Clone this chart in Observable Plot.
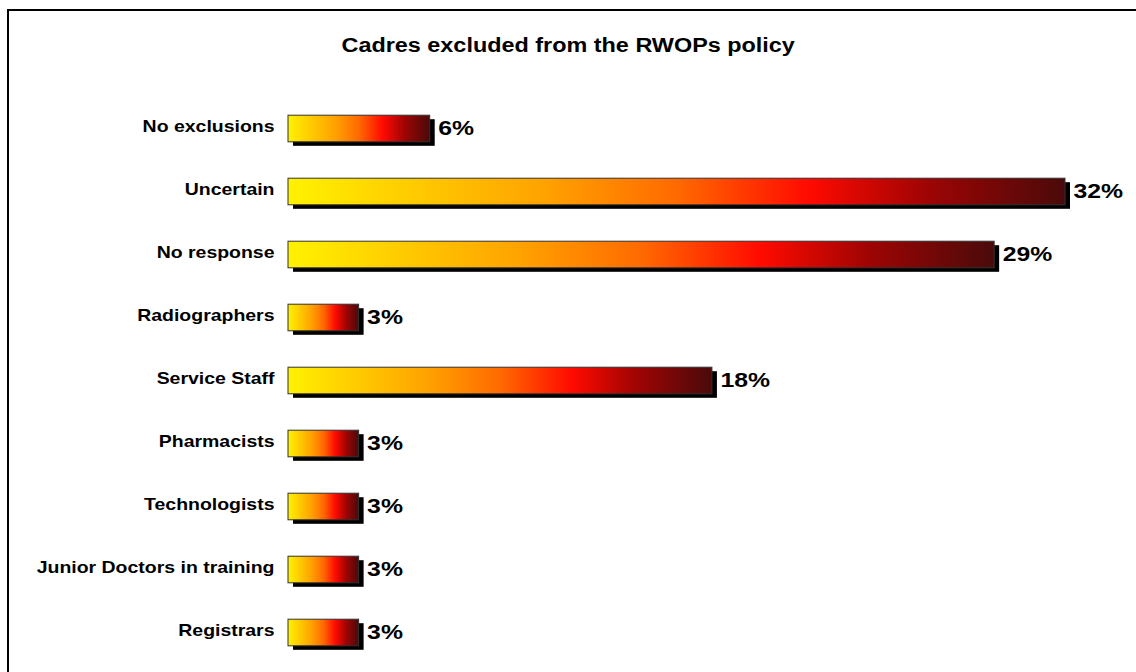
<!DOCTYPE html>
<html>
<head>
<meta charset="utf-8">
<script src="https://cdn.jsdelivr.net/npm/d3@7"></script>
<script src="https://cdn.jsdelivr.net/npm/@observablehq/plot@0.6"></script>
<style>
  html, body { margin: 0; padding: 0; background: #fff; overflow: hidden; }
  body { width: 1136px; height: 672px; position: relative; font-family: "Liberation Sans", Arial, sans-serif; }
  #frame { position: absolute; left: 7px; top: 9px; width: 1200px; height: 700px;
           border-top: 2px solid #000; border-left: 2px solid #000; box-sizing: border-box; }
  #title { position: absolute; left: 0; top: 33px; width: 1136px; text-align: center;
           font-weight: bold; font-size: 19.5px; line-height: 24px; color: #000;
           transform: scaleX(1.2); transform-origin: 567px 0; }
  #chart { position: absolute; left: 0; top: 80px; }
</style>
</head>
<body>
<div id="frame"></div>
<div id="title">Cadres excluded from the RWOPs policy</div>
<div id="chart"></div>
<script>
const categories = ["No exclusions", "Uncertain", "No response", "Radiographers", "Service Staff",
  "Pharmacists", "Technologists", "Junior Doctors in training", "Registrars"];
const values = [5.9, 32.35, 29.4, 2.94, 17.65, 2.94, 2.94, 2.94, 2.94];
const valueLabels = ["6%", "32%", "29%", "3%", "18%", "3%", "3%", "3%", "3%"];

const data = categories.map((c, i) => ({cat: c, v: values[i], lab: valueLabels[i]}));

const plot = Plot.plot({
  width: 1136,
  height: 592,
  marginLeft: 288,
  marginRight: 71,
  marginTop: 15,
  marginBottom: 6,
  x: {domain: [0, d3.max(values)], axis: null},
  y: {domain: categories, padding: 0, label: null},
  style: {fontFamily: "'Liberation Sans', Arial, sans-serif", background: "transparent"},
  marks: [
    Plot.barX(data, {y: "cat", x: "v", fill: "#000", insetTop: 18.2, insetBottom: 18.2, dx: 5, dy: 4}),
    Plot.barX(data, {y: "cat", x: "v", fill: "url(#barGrad)", stroke: "#333", strokeWidth: 1,
      insetTop: 18.2, insetBottom: 18.2}),
    Plot.text(data, {y: "cat", x: "v", text: "lab", textAnchor: "start", dx: 8, dy: -1,
      fontSize: 21, fontWeight: "bold", fill: "#000"}),
    Plot.axisY({tickSize: 0, tickPadding: 14, fontSize: 16.5, fontWeight: "bold", dy: -2, label: null, color: "#000"})
  ]
});

const svg = d3.select(plot);
const defs = svg.insert("defs", ":first-child");
const g = defs.append("linearGradient").attr("id", "barGrad")
  .attr("x1", "0").attr("y1", "0").attr("x2", "1").attr("y2", "0");
[[0, "#FFF200"], [0.33, "#FFA200"], [0.5, "#FF6A00"], [0.67, "#FF0A00"], [0.82, "#A00404"], [1, "#4A0A0A"]]
  .forEach(([o, c]) => g.append("stop").attr("offset", o).attr("stop-color", c));

// widen the text horizontally to match the reference's stretched lettering
svg.selectAll("text").each(function() {
  const t = d3.select(this);
  let tr = t.attr("transform") || "";
  const xa = t.attr("x");
  if (xa != null && isFinite(+xa)) {
    tr = `${tr} translate(${+xa},0)`;
    t.attr("x", null);
  }
  t.attr("transform", `${tr} scale(1.18,1)`);
});

document.getElementById("chart").appendChild(plot);
</script>
</body>
</html>
